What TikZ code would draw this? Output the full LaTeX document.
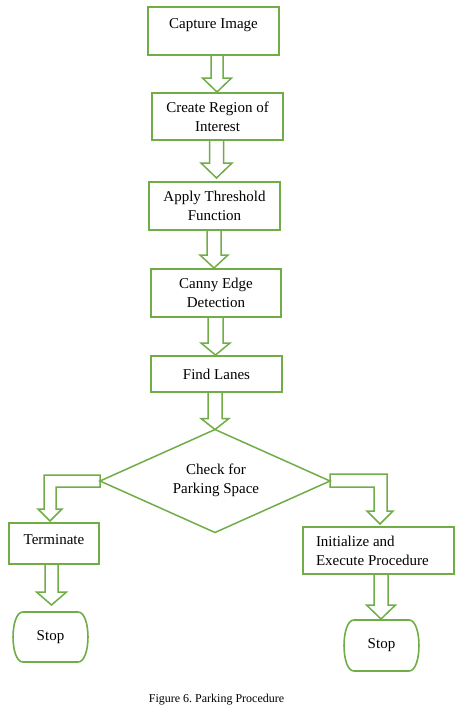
\documentclass[tikz,border=0pt]{standalone}
\usepackage{fontspec}
\setmainfont{Liberation Serif}
\usetikzlibrary{shapes.geometric,calc}
\definecolor{myg}{RGB}{112,173,71}
\frenchspacing
\tikzset{
  gbox/.style={draw=myg, line width=1.8pt, inner sep=0pt, outer sep=0pt,
    font=\fontsize{15}{19}\selectfont, align=center},
  ghost/.style={inner sep=0pt, outer sep=0pt, font=\fontsize{15}{19}\selectfont, align=center},
  arrowline/.style={draw=myg, line width=1.5pt, line join=miter},
  stopline/.style={draw=myg, line width=1.6pt}
}
% from, to, x-centre, shaft half width, head half width, head length, gap
\newcommand\vblock[7]{\draw[arrowline] let \p1=(#1.south), \p2=(#2.north) in
  (#3pt-#4pt,\y1) -- (#3pt+#4pt,\y1) -- (#3pt+#4pt,\y2+#7pt+#6pt) -- (#3pt+#5pt,\y2+#7pt+#6pt)
  -- (#3pt,\y2+#7pt) -- (#3pt-#5pt,\y2+#7pt+#6pt) -- (#3pt-#4pt,\y2+#7pt+#6pt) -- cycle;}
\newcommand\stopshape[1]{\draw[stopline]
  ([xshift=10pt]#1.north west) -- ([xshift=-10pt]#1.north east)
  .. controls ([xshift=3.3pt]#1.north east) and ([xshift=3.3pt]#1.south east) .. ([xshift=-10pt]#1.south east)
  -- ([xshift=10pt]#1.south west)
  .. controls ([xshift=-3.3pt]#1.south west) and ([xshift=-3.3pt]#1.north west) .. cycle;}
\begin{document}
\begin{tikzpicture}[x=1pt,y=-1pt]
\fill[white] (0,0) rectangle (456,715);
\useasboundingbox (0,0) rectangle (456,715);

\node[gbox, minimum width=131pt, minimum height=48pt] (b1) at (213.5,31) {\raisebox{6pt}[\height][\depth]{Capture Image}};
\node[gbox, minimum width=131pt, minimum height=47pt] (b2) at (217.5,116.5) {Create Region of\\Interest};
\node[gbox, minimum width=131pt, minimum height=48pt] (b3) at (214.5,206) {Apply Threshold\\Function};
\node[gbox, minimum width=130pt, minimum height=48pt] (b4) at (216,293) {Canny Edge\\Detection};
\node[gbox, minimum width=131pt, minimum height=36pt] (b5) at (216.5,374) {Find Lanes};

\node[diamond, draw=myg, line width=1.5pt, inner sep=0pt, outer sep=0pt,
      minimum width=230pt, minimum height=103pt] (d) at (215,481) {};
\node[ghost] (dt) at (216,480.5) {Check for\\Parking Space};

\node[gbox, minimum width=90pt, minimum height=41pt] (term) at (54,543.5) {\raisebox{4pt}[\height][\depth]{Terminate}};
\node[gbox, minimum height=47pt, inner xsep=13pt, text width=125pt, align=flush left] (init) at (378.5,550.5) {Initialize and\\Execute Procedure};

\node[ghost, minimum width=75pt, minimum height=50pt] (sL) at (50.5,637) {Stop};
\node[ghost, minimum width=75pt, minimum height=51pt] (sR) at (381.5,645.5) {Stop};
\stopshape{sL}
\stopshape{sR}

\vblock{b1}{b2}{217}{6}{14.5}{14}{1}
\vblock{b2}{b3}{216.5}{7}{15.5}{15}{4}
\vblock{b3}{b4}{214}{7}{14}{13}{1}
\vblock{b4}{b5}{215.5}{7.5}{14.5}{12}{1}
\vblock{b5}{d}{215}{7}{14}{11}{0}
\vblock{term}{sL}{51.5}{6.5}{15}{13}{7}
\vblock{init}{sR}{381}{7}{14.5}{14}{1}

\draw[arrowline] let \p1=(d.west), \p2=(term.north) in
  (\x1,\y1+6pt) -- (44pt,\y1+6pt) -- (44pt,\y2+14pt) -- (38pt,\y2+14pt) -- (50pt,\y2+2pt)
  -- (62pt,\y2+14pt) -- (56pt,\y2+14pt) -- (56pt,\y1-6pt) -- (\x1,\y1-6pt) -- cycle;
\draw[arrowline] let \p1=(d.east), \p2=(init.north) in
  (\x1,\y1+7pt) -- (387pt,\y1+7pt) -- (387pt,\y2+16pt) -- (393pt,\y2+16pt) -- (380pt,\y2+3pt)
  -- (367pt,\y2+16pt) -- (374pt,\y2+16pt) -- (374pt,\y1-6pt) -- (\x1,\y1-6pt) -- cycle;

\node[inner sep=0pt, font=\fontsize{12}{14}\selectfont] (cap) at (216.5,700) {Figure 6. Parking Procedure};
\end{tikzpicture}
\end{document}
